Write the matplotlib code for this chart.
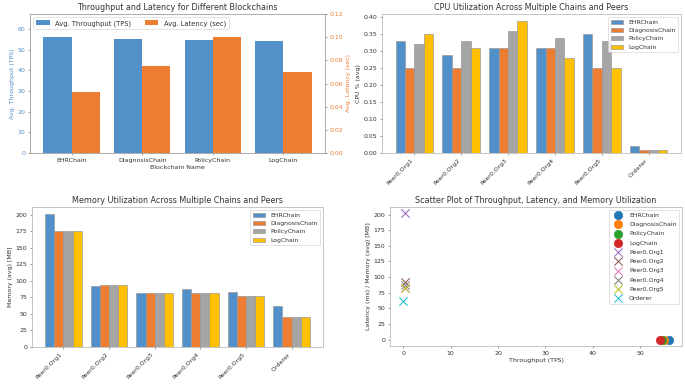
import numpy as np
import matplotlib.pyplot as plt

chains = ['EHRChain', 'DiagnosisChain', 'PolicyChain', 'LogChain']
throughput = [56.0, 54.9, 54.6, 54.2]
latency = [0.053, 0.075, 0.100, 0.070]

peers = ['Peer0.Org1', 'Peer0.Org2', 'Peer0.Org3', 'Peer0.Org4', 'Peer0.Org5', 'Orderer']
cpu = {
    'EHRChain':       [0.33, 0.29, 0.31, 0.31, 0.35, 0.02],
    'DiagnosisChain': [0.25, 0.25, 0.31, 0.31, 0.25, 0.01],
    'PolicyChain':    [0.32, 0.33, 0.36, 0.34, 0.33, 0.01],
    'LogChain':       [0.35, 0.31, 0.39, 0.28, 0.25, 0.01],
}
memory = {
    'EHRChain':       [202, 93, 82, 88, 83, 62],
    'DiagnosisChain': [175, 94, 82, 82, 77, 45],
    'PolicyChain':    [175, 94, 82, 82, 77, 45],
    'LogChain':       [175, 94, 82, 82, 77, 45],
}

colors = ['#5290c9', '#ed7d31', '#a5a5a5', '#ffc000']
edge = '#999999'

plt.rcParams['font.size'] = 9.2
plt.rcParams['axes.titlesize'] = 11.8
plt.rcParams['axes.edgecolor'] = edge
plt.rcParams['xtick.color'] = '#555555'
plt.rcParams['ytick.color'] = '#555555'
plt.rcParams['xtick.labelcolor'] = '#333333'
plt.rcParams['ytick.labelcolor'] = '#333333'
plt.rcParams['text.color'] = '#333333'
plt.rcParams['axes.labelcolor'] = '#333333'

DPI = 685 / 14
W, H = 685, 384
fig, axs = plt.subplots(2, 2, figsize=(14, H / DPI))

def place(ax, l, t, r, b):
    # pixel box -> figure fraction
    ax.set_position([l / W, 1 - b / H, (r - l) / W, (b - t) / H])

# throughput and latency
ax = axs[0, 0]
x = np.arange(len(chains))
w = 0.4
b1 = ax.bar(x - w / 2, throughput, w, color=colors[0], label='Avg. Throughput (TPS)')
ax.set_ylim(0, max(throughput) * 1.2)
ax.set_ylabel('Avg. Throughput (TPS)', color=colors[0])
ax.tick_params(axis='y', labelcolor=colors[0])
ax.set_xticks(x)
ax.set_xticklabels(chains)
ax.set_xlabel('Blockchain Name')
ax2 = ax.twinx()
b2 = ax2.bar(x + w / 2, latency, w, color=colors[1], label='Avg. Latency (sec)')
ax2.set_ylim(0, max(latency) * 1.2)
ax2.set_ylabel('Avg. Latency (sec)', color=colors[1])
ax2.tick_params(axis='y', labelcolor=colors[1])
ax.legend([b1, b2], ['Avg. Throughput (TPS)', 'Avg. Latency (sec)'], loc='upper left', ncol=2,
          fontsize=10)
ax.set_title('Throughput and Latency for Different Blockchains')

# grouped bars
def grouped(ax, data, ylabel, title):
    xp = np.arange(len(peers))
    bw = 0.2
    for i, c in enumerate(chains):
        ax.bar(xp + (i - 1.5) * bw, data[c], bw, color=colors[i], edgecolor=edge, label=c)
    ax.set_xticks(xp)
    ax.set_xticklabels(peers, rotation=45, ha='right')
    ax.set_ylabel(ylabel)
    ax.set_title(title)
    ax.legend(loc='upper right', fontsize=9)

grouped(axs[0, 1], cpu, 'CPU % (avg)', 'CPU Utilization Across Multiple Chains and Peers')
grouped(axs[1, 0], memory, 'Memory (avg) [MB]', 'Memory Utilization Across Multiple Chains and Peers')

# scatter
ax = axs[1, 1]
for i, c in enumerate(chains):
    ax.scatter(throughput[i], latency[i], s=150, label=c)
for j, p in enumerate(peers):
    ax.scatter(cpu['EHRChain'][j], memory['EHRChain'][j], marker='x', s=150, label=p)
ax.set_xlabel('Throughput (TPS)')
ax.set_ylabel('Latency (ms) / Memory (avg) [MB]')
ax.set_title('Scatter Plot of Throughput, Latency, and Memory Utilization')
ax.legend(loc='upper right', fontsize=9, labelspacing=0.65)

place(axs[0, 0], 30, 14, 325, 153)
place(ax2, 30, 14, 325, 153)
place(axs[0, 1], 382, 14, 681, 153)
place(axs[1, 0], 32, 207, 323, 347)
place(axs[1, 1], 390, 207, 682, 346)

plt.savefig('out.png', dpi=DPI)
